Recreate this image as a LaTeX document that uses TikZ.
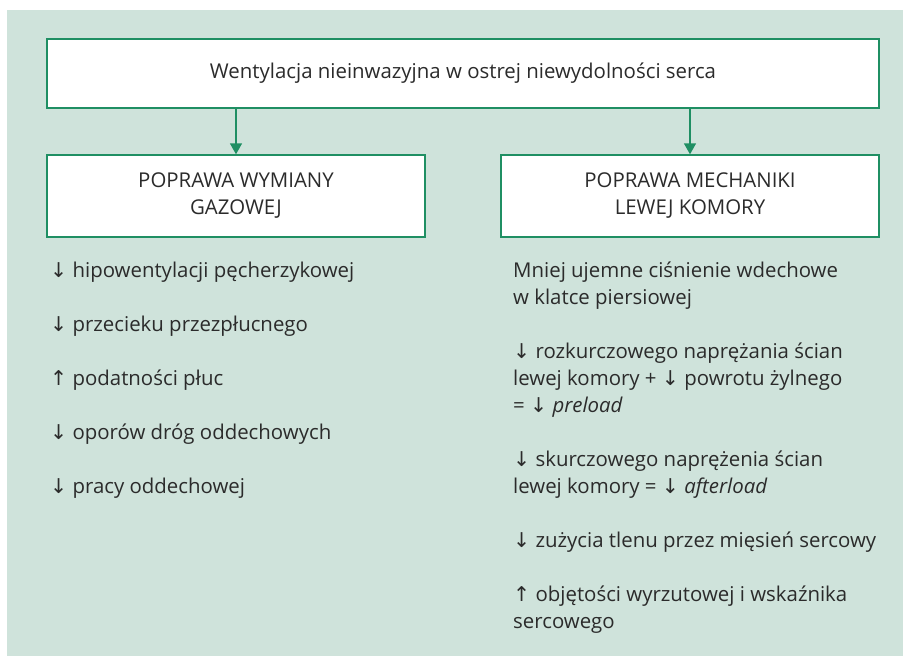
\documentclass[tikz,border=0pt]{standalone}
\usepackage{fontspec}
\setmainfont{Open Sans}
\newfontfamily\arrowfont{DejaVu Sans}
\usetikzlibrary{arrows.meta}
\definecolor{bggreen}{HTML}{CFE3DB}
\definecolor{linegreen}{HTML}{1F8F63}
\definecolor{txt}{HTML}{2B2B2B}
\newcommand{\dn}{{\arrowfont\char"2193}}
\newcommand{\up}{{\arrowfont\char"2191}}
\begin{document}
\begin{tikzpicture}[x=1pt,y=-1pt,
  every node/.style={text=txt,font=\fontsize{20.4}{27}\selectfont,inner sep=0pt},
  box/.style={draw=linegreen,line width=1.4pt,fill=white,align=center},
  item/.style={anchor=base west,align=left},
  conn/.style={draw=linegreen,line width=1.4pt,-{Triangle[width=12pt,length=11pt]}}]
\useasboundingbox (0,0) rectangle (903,656);
\fill[bggreen] (7,10) rectangle (903,656);
\node[box,minimum width=832pt,minimum height=69pt] (top) at (463,73.5) {Wentylacja nieinwazyjna w ostrej niewydolności serca};
\node[box,minimum width=378pt,minimum height=82pt] (left) at (236,196) {POPRAWA WYMIANY\\GAZOWEJ};
\node[box,minimum width=378pt,minimum height=82pt] (right) at (690,196) {POPRAWA MECHANIKI\\LEWEJ KOMORY};
\draw[conn] (top.south -| left.north) -- (left.north);
\draw[conn] (top.south -| right.north) -- (right.north);
% left column
\node[item] (l1) at (50,277) {\dn{} hipowentylacji pęcherzykowej};
\node[item] (l2) at (50,331) {\dn{} przecieku przezpłucnego};
\node[item] (l3) at (50,385) {\up{} podatności płuc};
\node[item] (l4) at (50,439) {\dn{} oporów dróg oddechowych};
\node[item] (l5) at (50,493) {\dn{} pracy oddechowej};
% right column (anchor = baseline of last line)
\node[item] (r1) at (513,304) {Mniej ujemne ciśnienie wdechowe\\w klatce piersiowej};
\node[item] (r2) at (513,412) {\dn{} rozkurczowego naprężania ścian\\lewej komory + \dn{} powrotu żylnego\\= \dn{} \textit{preload}};
\node[item] (r3) at (513,493) {\dn{} skurczowego naprężenia ścian\\lewej komory = \dn{} \textit{afterload}};
\node[item] (r4) at (513,547) {\dn{} zużycia tlenu przez mięsień sercowy};
\node[item] (r5) at (513,628) {\up{} objętości wyrzutowej i wskaźnika\\sercowego};
\end{tikzpicture}
\end{document}
